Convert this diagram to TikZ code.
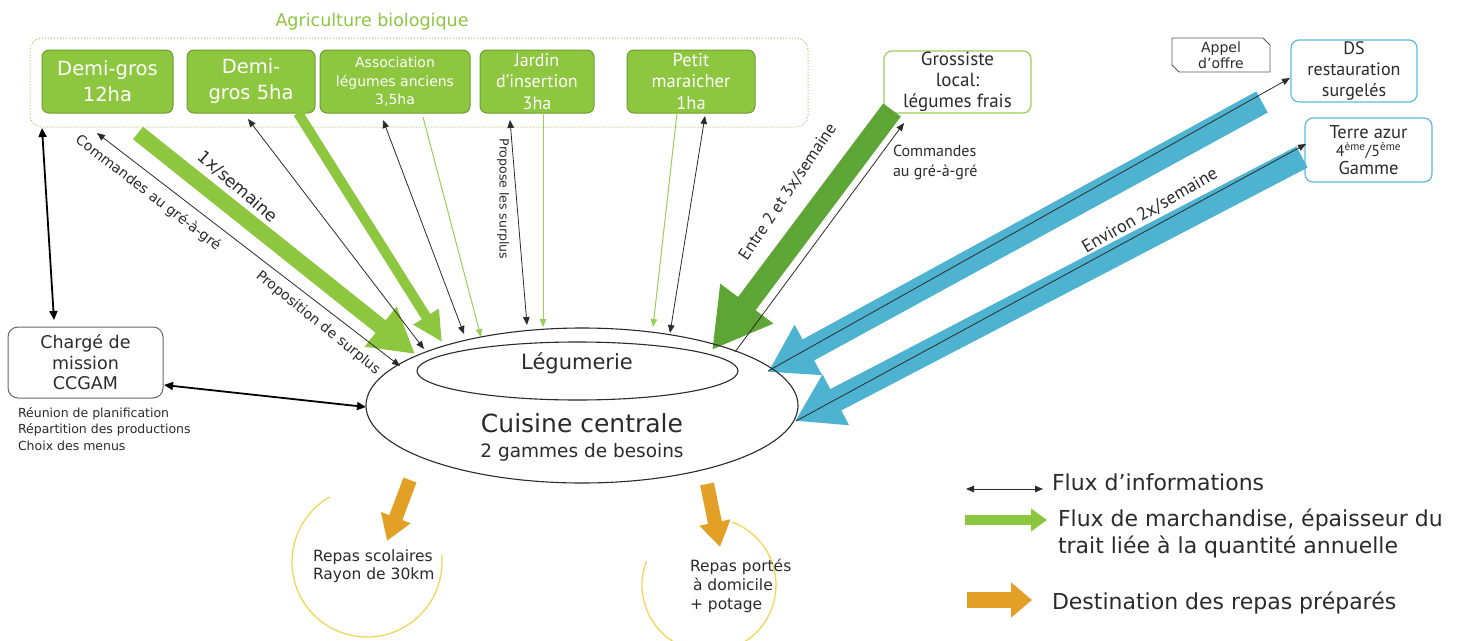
\documentclass[tikz,border=0pt]{standalone}
\usepackage{fontspec}
\setmainfont{DejaVu Sans}
\newfontfamily\cond{PT Sans}
\usetikzlibrary{arrows.meta,shapes.geometric}
\definecolor{agreen}{HTML}{8DC63F}
\definecolor{gborder}{HTML}{6F9E2C}
\definecolor{dgreen}{HTML}{5DA636}
\definecolor{lgreen}{HTML}{9ACD5A}
\definecolor{ablue}{HTML}{4DB3D1}
\definecolor{bborder}{HTML}{5BBAD8}
\definecolor{aorange}{HTML}{E3A027}
\definecolor{ayellow}{HTML}{F0D54A}
\definecolor{txt}{HTML}{2B2B2B}
\newcommand\fs[2]{\fontsize{#1}{#2}\selectfont}
\begin{document}
\begin{tikzpicture}[x=1pt,y=-1pt,
  every node/.style={inner sep=0pt, outer sep=0pt},
  gbox/.style={draw=gborder, fill=agreen, rounded corners=7pt, line width=1pt, minimum height=63pt, align=center, text=white},
  wbox/.style={fill=white, rounded corners=8pt, line width=1.2pt, align=center, text=txt},
  lab/.style={text=txt},
  infoboth/.style={draw=txt, line width=0.8pt, {Triangle[length=8pt,width=6.5pt]}-{Triangle[length=8pt,width=6.5pt]}},
  infoone/.style={draw=txt, line width=0.8pt, -{Triangle[length=8pt,width=6.5pt]}},
  infothick/.style={draw=black, line width=1.8pt, {Triangle[length=9pt,width=8pt]}-{Triangle[length=9pt,width=8pt]}},
  gthin/.style={draw=lgreen, line width=1pt, -{Triangle[length=8pt,width=6.5pt]}},
  flow/.style n args={4}{draw=#1, line width=#2, -{Triangle[length=#3,width=#4]}},
  yarc/.style={draw=ayellow, line width=1.2pt},
]
\useasboundingbox (0,0) rectangle (1461,640);
\fill[white] (0,0) rectangle (1461,640);

% ---- Agriculture biologique group
\node[draw=lgreen, dotted, line width=1pt, rounded corners=12pt, minimum width=778pt, minimum height=89pt] (agri) at (419,82.5) {};
\node[text=agreen, font=\fs{17.5}{20}] (agrit) at (372,22) {Agriculture biologique};
\node[gbox, minimum width=131pt, font=\fs{19.5}{26}] (b1) at (107.5,81.5) {Demi-gros\\12ha};
\node[gbox, minimum width=128pt, font=\fs{19.5}{26}] (b2) at (251,81.5) {Demi-\\gros 5ha};
\node[gbox, minimum width=150pt, font=\fs{14}{18.5}] (b3) at (395,81.5) {Association\\légumes anciens\\3,5ha};
\node[gbox, minimum width=114pt, font=\cond\fs{18}{21.5}] (b4) at (537,81.5) {Jardin\\d’insertion\\3ha};
\node[gbox, minimum width=128pt, font=\cond\fs{18.5}{21.5}] (b5) at (691,81.5) {Petit\\maraicher\\1ha};

% ---- suppliers
\node[wbox, draw=lgreen, minimum width=147pt, minimum height=62pt, font=\cond\fs{19}{21}] (gro) at (957.5,82) {Grossiste\\local:\\légumes frais};
\node[wbox, draw=bborder, minimum width=126pt, minimum height=62pt, font=\cond\fs{18}{21}] (ds) at (1354,71) {DS\\restauration\\surgelés};
\node[wbox, draw=bborder, minimum width=127pt, minimum height=64pt, font=\cond\fs{18.5}{18}] (ta) at (1368.5,150) {Terre azur\\{\fs{16}{18}4\textsuperscript{ème}/5\textsuperscript{ème}}\\Gamme};
\node[minimum width=98pt, minimum height=34pt, align=center, text=txt, font=\fs{14}{16}] (ao) at (1221,55) {Appel\\d’offre};
\draw[draw=gray!70!black, line width=0.9pt] (ao.north west) -- ([xshift=-7pt]ao.north east) -- ([yshift=-7pt]ao.north east) -- (ao.south east) -- ([xshift=7pt]ao.south west) -- ([yshift=7pt]ao.south west) -- cycle;

% ---- Chargé de mission
\node[wbox, draw=gray!80!black, rounded corners=10pt, line width=1pt, minimum width=155pt, minimum height=71pt, font=\fs{17.5}{20.5}] (cm) at (85.5,362.5) {Chargé de\\mission\\CCGAM};
\node[lab, anchor=north west, align=left, font=\fs{12.5}{16.5}] (cmt) at (18,407) {Réunion de planification\\Répartition des productions\\Choix des menus};

% ---- endpoints
\coordinate (agb) at (42,128);
\coordinate (cmtop) at (54,320);
\coordinate (cmr) at (164,385);
\coordinate (ccl) at (366,407);
\coordinate (p1a) at (97,133);   \coordinate (p1b) at (400,366);
\coordinate (p2a) at (248,119);  \coordinate (p2b) at (424,349);
\coordinate (p3a) at (383,120);  \coordinate (p3b) at (464,334);
\coordinate (p4a) at (510,120);  \coordinate (p4b) at (527,325);
\coordinate (p5a) at (705,116);  \coordinate (p5b) at (670,333);
\coordinate (g3a) at (423,117);  \coordinate (g3b) at (481,337);
\coordinate (g4a) at (543,113);  \coordinate (g4b) at (543,327);
\coordinate (g5a) at (677,113);  \coordinate (g5b) at (653,327);
\coordinate (a1a) at (138,133);  \coordinate (a1b) at (415,354);
\coordinate (a2a) at (298,113);  \coordinate (a2b) at (442,342);
\coordinate (dga) at (892,110);  \coordinate (dgb) at (712,350);
\coordinate (gca) at (735,352);  \coordinate (gcb) at (904,123);
\coordinate (b1a) at (1262,102); \coordinate (b1b) at (768,372);
\coordinate (b2a) at (1302,157); \coordinate (b2b) at (795,421);
\coordinate (l1a) at (768,371);  \coordinate (l1b) at (1290,78);
\coordinate (l2a) at (796,421);  \coordinate (l2b) at (1306,144);
\coordinate (o1a) at (410,480);  \coordinate (o1b) at (387,541);
\coordinate (o2a) at (707,484);  \coordinate (o2b) at (720,547);

% ---- big flows
\draw[flow={agreen}{16pt}{44pt}{48pt}] (a1a) -- (a1b);
\draw[flow={agreen}{10pt}{30pt}{28pt}] (a2a) -- (a2b);
\draw[flow={dgreen}{22pt}{58pt}{62pt}] (dga) -- (dgb);
\draw[flow={ablue}{24pt}{46pt}{54pt}] (b1a) -- (b1b);
\draw[flow={ablue}{24pt}{46pt}{54pt}] (b2a) -- (b2b);
\draw[flow={aorange}{14pt}{25pt}{30pt}] (o1a) -- (o1b);
\draw[flow={aorange}{14pt}{25pt}{30pt}] (o2a) -- (o2b);

% ---- thin flows
\draw[gthin] (g3a) -- (g3b);
\draw[gthin] (g4a) -- (g4b);
\draw[gthin] (g5a) -- (g5b);

% ---- information flows
\draw[infothick] (agb) -- (cmtop);
\draw[infothick] (cmr) -- (ccl);
\draw[infoboth] (p1a) -- (p1b);
\draw[infoboth] (p2a) -- (p2b);
\draw[infoboth] (p3a) -- (p3b);
\draw[infoboth] (p4a) -- (p4b);
\draw[infoboth] (p5a) -- (p5b);
\draw[infoone] (gca) -- (gcb);
\draw[infoone] (l1a) -- (l1b);
\draw[infoone] (l2a) -- (l2b);

% ---- labels
\node[lab, rotate=-37.5, font=\fs{14}{16}] (lc1) at (148,193) {Commandes au gré-à-gré};
\node[lab, rotate=-39, font=\fs{14}{16}] (lp1) at (318,323) {Proposition de surplus};
\node[lab, rotate=-41, font=\fs{17}{19}] (l1x) at (238,187) {1x/semaine};
\node[lab, rotate=-90, font=\fs{12.5}{14}] (lps) at (503,199) {Propose les surplus};
\node[lab, rotate=56, font=\cond\fs{17}{19}] (le23) at (788,192) {Entre 2 et 3x/semaine};
\node[lab, anchor=west, align=left, font=\cond\fs{16}{20}] (lcg) at (893,162) {Commandes\\au gré-à-gré};
\node[lab, rotate=30, font=\cond\fs{18}{20}] (lenv) at (1150,211) {Environ 2x/semaine};

% ---- cuisine centrale
\node[draw=txt, line width=1.1pt, ellipse, minimum width=432pt, minimum height=155pt] (cc) at (582,405.5) {};
\node[draw=txt, line width=1.1pt, ellipse, minimum width=321pt, minimum height=58pt] (leg) at (577.5,371) {};
\node[lab, font=\fs{21}{24}] (legt) at (577,363) {Légumerie};
\node[lab, font=\fs{25}{28}] (cct) at (582,423) {Cuisine centrale};
\node[lab, font=\fs{18.5}{22}] (ccs) at (582,452) {2 gammes de besoins};

% ---- destinations
\coordinate (sc1) at (367,562);
\coordinate (sc2) at (709,585);
\draw[yarc] (sc1) ++(-120:75) arc[start angle=-120, end angle=-365, radius=75];
\draw[yarc] (sc2) ++(-159:67) arc[start angle=-159, end angle=-430, radius=67];
\node[lab, anchor=west, align=left, font=\fs{15.5}{18.5}] (rs) at (313,566) {Repas scolaires\\Rayon de 30km};
\node[lab, anchor=west, align=left, font=\fs{15.5}{19}] (rp) at (690,586) {Repas portés\\\hspace*{3pt}à domicile\\+ potage};

% ---- legend
\coordinate (lg1a) at (966,489); \coordinate (lg1b) at (1043,489);
\coordinate (lg2a) at (965,520); \coordinate (lg2b) at (1047,520);
\coordinate (lg3a) at (967,600); \coordinate (lg3b) at (1032,600);
\draw[infoboth] (lg1a) -- (lg1b);
\draw[flow={agreen}{10pt}{16pt}{22pt}] (lg2a) -- (lg2b);
\draw[flow={aorange}{16pt}{21pt}{34pt}] (lg3a) -- (lg3b);
\node[lab, anchor=west, font=\fs{22}{26}] (lgt1) at (1052,482) {Flux d’informations};
\node[lab, anchor=west, align=left, font=\fs{22}{27}] (lgt2) at (1058,533.5) {Flux de marchandise, épaisseur du\\trait liée à la quantité annuelle};
\node[lab, anchor=west, font=\fs{22}{26}] (lgt3) at (1052,603) {Destination des repas préparés};
\end{tikzpicture}
\end{document}
